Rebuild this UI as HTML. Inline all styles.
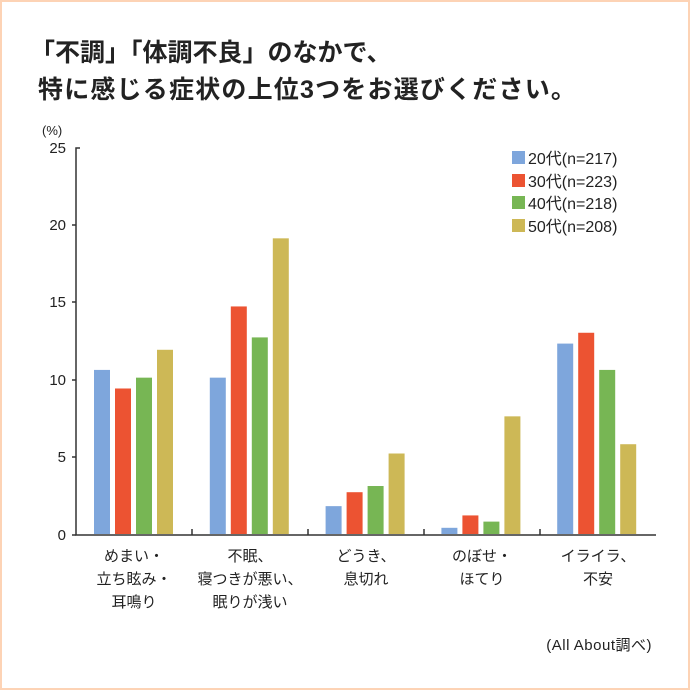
<!DOCTYPE html>
<html><head><meta charset="utf-8"><style>
body{margin:0;background:#fff}
.f{position:absolute;left:0;top:0;width:686px;height:686px;border:2px solid #fdd3b5;background:#fff;overflow:hidden}
svg text{font-family:"Liberation Sans","Noto Sans CJK JP",sans-serif;fill:#222}
</style></head><body><div class="f">
<svg width="690" height="690" style="position:absolute;left:-2px;top:-2px">
<text x="30" y="61" font-size="25" font-weight="bold">「不調」「体調不良」のなかで、</text>
<text x="38" y="98" font-size="25" font-weight="bold" letter-spacing="1.2">特に感じる症状の上位3つをお選びください。</text>
<text x="42" y="135" font-size="13">(%)</text>
<g font-size="15" text-anchor="end">
<text x="66" y="153">25</text><text x="66" y="230">20</text><text x="66" y="307">15</text>
<text x="66" y="385">10</text><text x="66" y="462">5</text><text x="66" y="540">0</text>
</g>
<g stroke="#333" stroke-width="1.5" fill="none">
<path d="M80 148 L76 148 L76 535 L656 535"/>
<path d="M72 225H76M72 302H76M72 380H76M72 457H76M72 535H76"/>
<path d="M192 529V535M308 529V535M424 529V535M540 529V535"/>
</g>
<g id="bars"></g>
<g font-size="15" text-anchor="middle">
<text x="134" y="561">めまい・</text><text x="134" y="584">立ち眩み・</text><text x="134" y="607">耳鳴り</text>
<text x="250" y="561">不眠、</text><text x="250" y="584">寝つきが悪い、</text><text x="250" y="607">眠りが浅い</text>
<text x="366" y="561">どうき、</text><text x="366" y="584">息切れ</text>
<text x="482" y="561">のぼせ・</text><text x="482" y="584">ほてり</text>
<text x="598" y="561">イライラ、</text><text x="598" y="584">不安</text>
</g>
<g font-size="16">
<rect x="512" y="151" width="13" height="13" fill="#7ea6dc"/><text x="528" y="164">20代(n=217)</text>
<rect x="512" y="174" width="13" height="13" fill="#ec5332"/><text x="528" y="187">30代(n=223)</text>
<rect x="512" y="196" width="13" height="13" fill="#77b654"/><text x="528" y="209">40代(n=218)</text>
<rect x="512" y="219" width="13" height="13" fill="#cdb856"/><text x="528" y="232">50代(n=208)</text>
</g>
<text x="652" y="650" font-size="15" text-anchor="end" letter-spacing="0.5">(All About調べ)</text>
</svg></div>
<script>
var v=[[10.6,9.4,10.1,11.9],[10.1,14.7,12.7,19.1],[1.8,2.7,3.1,5.2],[0.4,1.2,0.8,7.6],[12.3,13.0,10.6,5.8]];
var c=["#7ea6dc","#ec5332","#77b654","#cdb856"],s="";
v.forEach(function(g,i){g.forEach(function(x,j){var h=x*15.48;s+='<rect x="'+(94+i*115.8+j*21)+'" y="'+(534-h)+'" width="16" height="'+h+'" fill="'+c[j]+'"/>';});});
document.getElementById("bars").innerHTML=s;
</script>
</body></html>
